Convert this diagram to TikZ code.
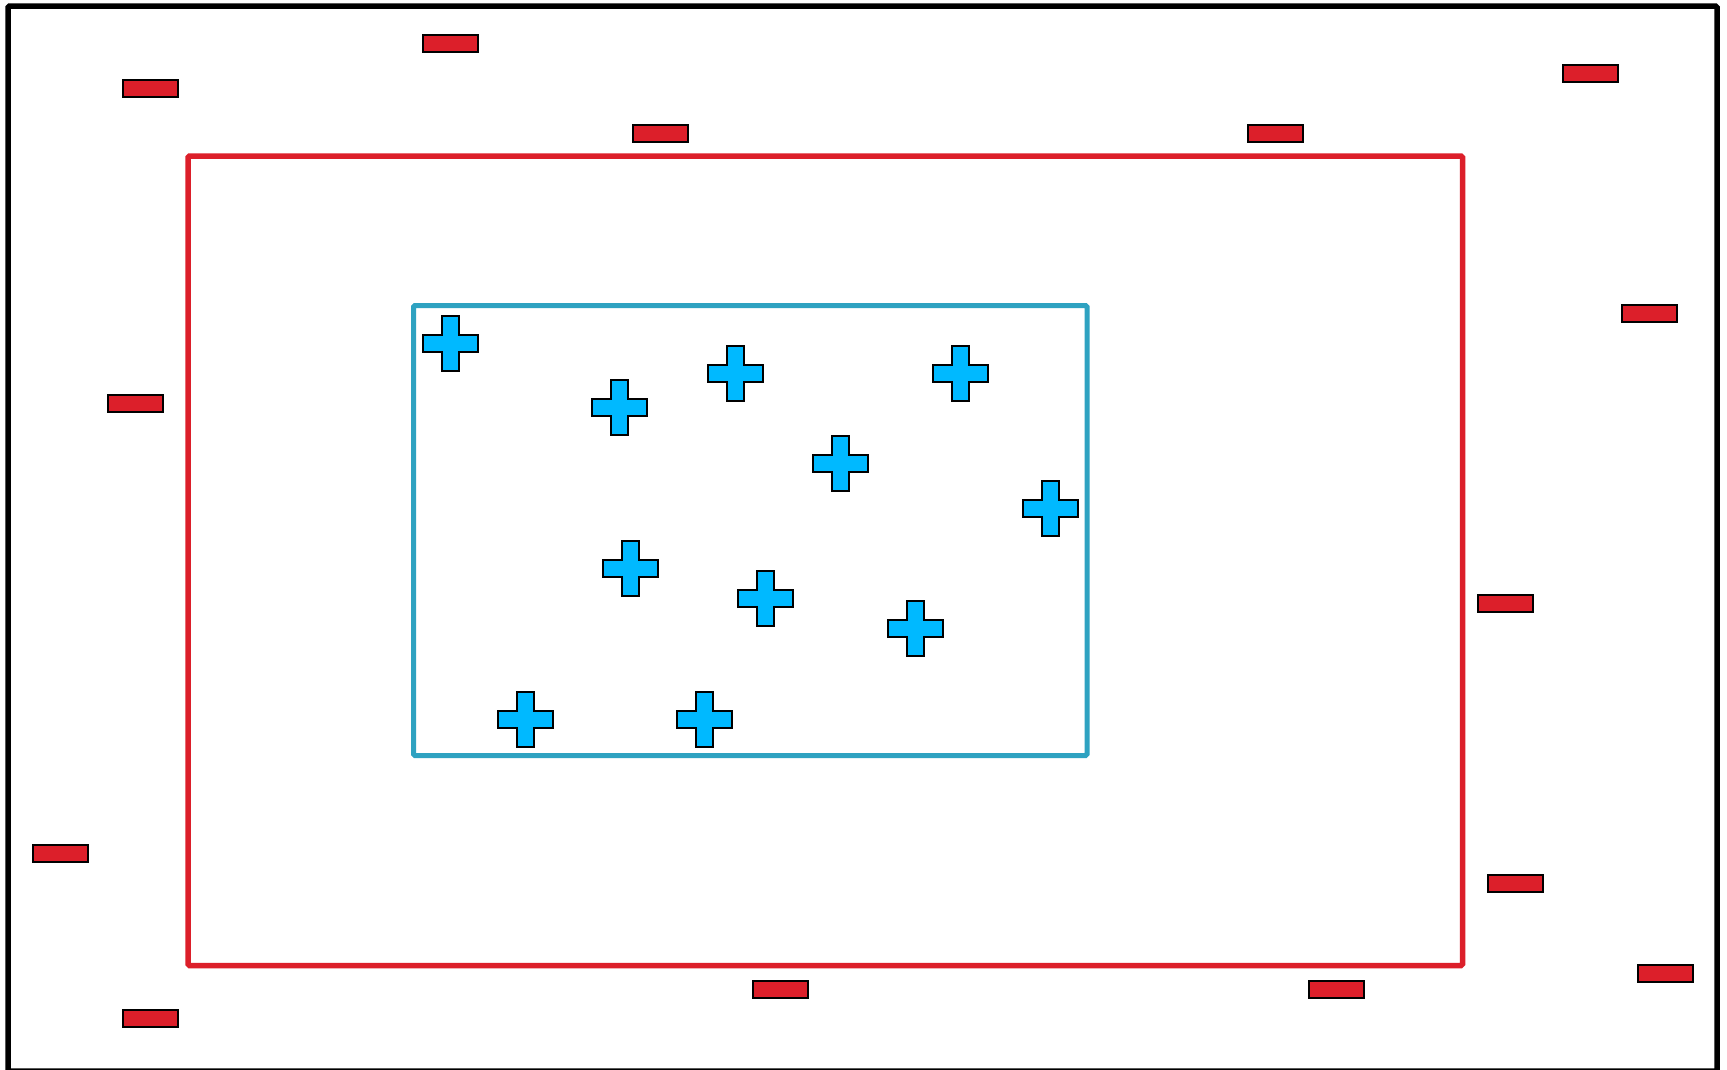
\documentclass[tikz,border=0pt]{standalone}
\usetikzlibrary{calc}
\definecolor{redc}{RGB}{220,31,42}
\definecolor{plusc}{RGB}{0,185,255}
\definecolor{tealc}{RGB}{46,162,193}
\tikzset{
  redbox/.style={draw=black, fill=redc, line width=2pt, minimum width=55pt, minimum height=17pt, inner sep=0pt},
  plussign/.pic={\draw[fill=plusc, line width=2pt, line join=miter]
    (-8.5,-27.5) -- (8.5,-27.5) -- (8.5,-8.5) -- (27.5,-8.5) -- (27.5,8.5) -- (8.5,8.5) -- (8.5,27.5) -- (-8.5,27.5) -- (-8.5,8.5) -- (-27.5,8.5) -- (-27.5,-8.5) -- (-8.5,-8.5) -- cycle;},
  frame/.style={line width=5.5pt, rounded corners=1.5pt}
}
\begin{document}
\begin{tikzpicture}[x=1pt,y=-1pt]
\useasboundingbox (0,0) rectangle (1727,1069);
\fill[white] (0,0) rectangle (1727,1069);
% outer frame
\draw[frame, black] (8,6) rectangle (1717,1071);
% red frame
\draw[frame, redc] (188,156) rectangle (1462.5,965.5);
% blue frame
\draw[line width=5pt, tealc, rounded corners=1.5pt] (413.5,305.5) rectangle (1087,755.5);
% red boxes
\node[redbox] (r1) at (150.7,88.5) {};
\node[redbox] (r2) at (450.5,43.5) {};
\node[redbox] (r3) at (660.8,133.8) {};
\node[redbox] (r4) at (1275.4,133.8) {};
\node[redbox] (r5) at (1590.4,73.2) {};
\node[redbox] (r6) at (1649.9,313.3) {};
\node[redbox] (r7) at (135.5,403.7) {};
\node[redbox] (r8) at (1505.6,603.6) {};
\node[redbox] (r9) at (60.6,853.8) {};
\node[redbox] (r10) at (1515.5,883.7) {};
\node[redbox] (r11) at (1665.4,973.9) {};
\node[redbox] (r12) at (780.9,989.0) {};
\node[redbox] (r13) at (1336.0,989.0) {};
\node[redbox] (r14) at (150.7,1018.9) {};
% plus signs
\pic (p1) at (450.5,343.5) {plussign};
\pic (p2) at (619,407) {plussign};
\pic (p3) at (735.7,373.9) {plussign};
\pic (p4) at (960.4,373.9) {plussign};
\pic (p5) at (840.4,463.7) {plussign};
\pic (p6) at (1050.7,508.8) {plussign};
\pic (p7) at (630,568.9) {plussign};
\pic (p8) at (765.5,598.6) {plussign};
\pic (p9) at (915.3,628.9) {plussign};
\pic (p10) at (525.4,719.2) {plussign};
\pic (p11) at (704.9,719.2) {plussign};
\end{tikzpicture}
\end{document}
